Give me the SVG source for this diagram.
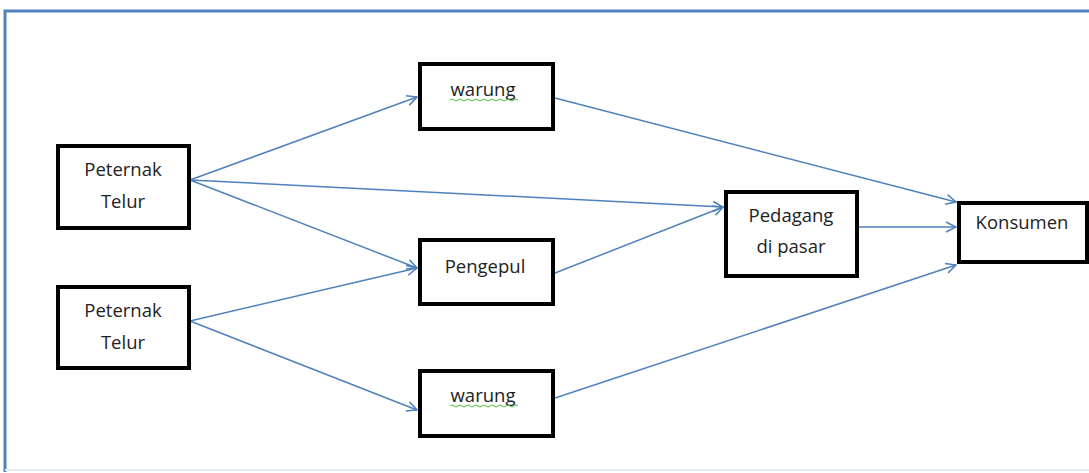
<svg xmlns="http://www.w3.org/2000/svg" width="1089" height="473" viewBox="0 0 1089 473">
<defs>
<style>
.box{fill:#fff;stroke:#000;stroke-width:4}
.t{font-family:"Open Sans","Liberation Sans",sans-serif;font-size:18.5px;fill:#222;text-anchor:middle}
.c{fill:none;stroke:#4F81BD;stroke-width:1.5}
.sq{fill:none;stroke:#4CBB3A;stroke-width:1}
</style>
<marker id="a" viewBox="0 0 12 12" refX="11" refY="6" markerWidth="12" markerHeight="12" markerUnits="userSpaceOnUse" orient="auto">
<path d="M1,1 L11,6 L1,11" fill="none" stroke="#4F81BD" stroke-width="1.5"/>
</marker>
</defs>
<rect width="1089" height="473" fill="#fff"/>
<g id="frame">
<path d="M5,472 L5,11 L1089,11" fill="none" stroke="#4F81BD" stroke-width="3"/>
<line x1="5" y1="470" x2="1089" y2="470" stroke="#E3ECF5" stroke-width="2"/>
</g>
<g id="connectors">
<line class="c" x1="190" y1="180" x2="417" y2="97" marker-end="url(#a)"/>
<line class="c" x1="190" y1="180" x2="723" y2="207" marker-end="url(#a)"/>
<line class="c" x1="190" y1="180" x2="417" y2="268" marker-end="url(#a)"/>
<line class="c" x1="190" y1="321" x2="417" y2="268" marker-end="url(#a)"/>
<line class="c" x1="190" y1="321" x2="417" y2="410" marker-end="url(#a)"/>
<line class="c" x1="555" y1="98" x2="956" y2="202" marker-end="url(#a)"/>
<line class="c" x1="555" y1="273" x2="723" y2="207" marker-end="url(#a)"/>
<line class="c" x1="858" y1="227" x2="956" y2="227" marker-end="url(#a)"/>
<line class="c" x1="555" y1="398" x2="956" y2="265" marker-end="url(#a)"/>
</g>
<g id="peternak1">
<rect class="box" x="58" y="146" width="131" height="82"/>
<text class="t" x="123" y="176">Peternak</text>
<text class="t" x="123" y="208">Telur</text>
</g>
<g id="peternak2">
<rect class="box" x="58" y="287" width="131" height="81"/>
<text class="t" x="123" y="317">Peternak</text>
<text class="t" x="123" y="349">Telur</text>
</g>
<g id="warung1">
<rect class="box" x="420" y="64" width="133" height="65"/>
<text class="t" x="483" y="96">warung</text>
<path class="sq" d="M450,100 q2,-2 4,0 t4,0 t4,0 t4,0 t4,0 t4,0 t4,0 t4,0 t4,0 t4,0 t4,0 t4,0 t4,0 t4,0 t4,0 t4,0 t4,0"/>
</g>
<g id="pengepul">
<rect class="box" x="420" y="240" width="133" height="64"/>
<text class="t" x="485" y="273">Pengepul</text>
</g>
<g id="warung2">
<rect class="box" x="420" y="371" width="133" height="65"/>
<text class="t" x="483" y="402">warung</text>
<path class="sq" d="M450,406 q2,-2 4,0 t4,0 t4,0 t4,0 t4,0 t4,0 t4,0 t4,0 t4,0 t4,0 t4,0 t4,0 t4,0 t4,0 t4,0 t4,0 t4,0"/>
</g>
<g id="pedagang">
<rect class="box" x="726" y="192" width="131" height="84"/>
<text class="t" x="791" y="222">Pedagang</text>
<text class="t" x="791" y="253">di pasar</text>
</g>
<g id="konsumen">
<rect class="box" x="959" y="203" width="128" height="59"/>
<text class="t" x="1022" y="229">Konsumen</text>
</g>
</svg>
